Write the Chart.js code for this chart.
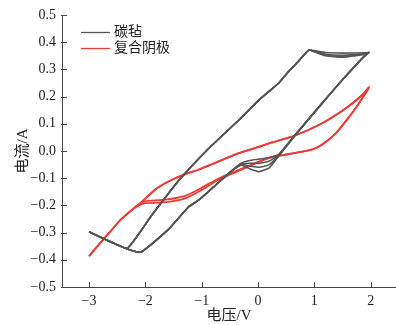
<!DOCTYPE html>
<html><head><meta charset="utf-8">
<script src="https://cdn.jsdelivr.net/npm/chart.js@4/dist/chart.umd.min.js"></script>
<style>html,body{margin:0;padding:0;background:#fff;overflow:hidden}#wrap{width:396px;height:325px;position:relative}</style>
</head><body><div id="wrap"><canvas id="c" width="396" height="325"></canvas></div>
<script>
const seriesNames = ['碳毡', '复合阴极'];
const xTicks = [-3, -2, -1, 0, 1, 2];
const yTicks = [-0.5, -0.4, -0.3, -0.2, -0.1, 0.0, 0.1, 0.2, 0.3, 0.4, 0.5];
const xTitle = '电压/V';
const yTitle = '电流/A';

// 碳毡 (carbon felt) – voltage path of one cycle
const grayV = [-3.0, -2.7, -2.32, -2.08, -1.6, -1.23, -1.05, -0.75, -0.52, -0.3, -0.15, 0.02, 0.2, 0.37, 0.67, 1.14, 1.5, 1.88, 1.97, 1.9, 1.5, 1.2, 1.0, 0.9, 0.7, 0.52, 0.37, 0.2, 0.02, -0.34, -0.87, -1.4, -1.9, -2.32, -2.7, -3.0];
const grayCycle1 = [-0.297, -0.326, -0.36, -0.372, -0.29, -0.205, -0.18, -0.125, -0.082, -0.045, -0.035, -0.03, -0.024, -0.012, 0.062, 0.176, 0.262, 0.347, 0.362, 0.361, 0.36, 0.362, 0.369, 0.371, 0.326, 0.287, 0.25, 0.22, 0.188, 0.114, 0.01, -0.107, -0.24, -0.357, -0.326, -0.297];
const grayCycle2 = [-0.297, -0.326, -0.36, -0.372, -0.29, -0.205, -0.18, -0.125, -0.082, -0.048, -0.045, -0.045, -0.037, -0.014, 0.062, 0.176, 0.262, 0.347, 0.362, 0.358, 0.352, 0.356, 0.367, 0.371, 0.326, 0.287, 0.25, 0.22, 0.188, 0.114, 0.01, -0.107, -0.24, -0.357, -0.326, -0.297];
const grayCycle3 = [-0.297, -0.326, -0.36, -0.372, -0.29, -0.205, -0.18, -0.125, -0.082, -0.05, -0.055, -0.06, -0.05, -0.016, 0.061, 0.176, 0.262, 0.347, 0.362, 0.357, 0.348, 0.352, 0.366, 0.371, 0.326, 0.287, 0.25, 0.22, 0.188, 0.114, 0.01, -0.107, -0.24, -0.357, -0.326, -0.297];
const grayCycle4 = [-0.297, -0.326, -0.36, -0.372, -0.29, -0.205, -0.18, -0.125, -0.082, -0.052, -0.065, -0.076, -0.062, -0.018, 0.06, 0.176, 0.262, 0.347, 0.362, 0.356, 0.345, 0.35, 0.365, 0.371, 0.326, 0.287, 0.25, 0.22, 0.188, 0.114, 0.01, -0.107, -0.24, -0.357, -0.326, -0.297];

// 复合阴极 (composite cathode)
const redV = [-3.0, -2.85, -2.65, -2.45, -2.23, -2.08, -1.8, -1.52, -1.3, -1.05, -0.8, -0.34, 0.0, 0.195, 0.67, 1.14, 1.56, 1.85, 1.97, 1.79, 1.62, 1.38, 1.14, 0.965, 0.55, 0.195, -0.1, -0.69, -1.0, -1.28, -1.64, -1.99, -2.08, -2.23, -2.45, -2.65, -2.85, -3.0];
const redCycle1 = [-0.387, -0.35, -0.303, -0.255, -0.215, -0.19, -0.138, -0.105, -0.086, -0.068, -0.047, -0.008, 0.014, 0.028, 0.058, 0.102, 0.157, 0.206, 0.234, 0.175, 0.126, 0.065, 0.024, 0.006, -0.011, -0.025, -0.049, -0.1, -0.135, -0.164, -0.179, -0.184, -0.19, -0.215, -0.255, -0.303, -0.35, -0.387];
const redCycle2 = [-0.387, -0.35, -0.303, -0.255, -0.215, -0.19, -0.138, -0.105, -0.086, -0.068, -0.047, -0.008, 0.014, 0.028, 0.058, 0.102, 0.157, 0.206, 0.234, 0.175, 0.126, 0.065, 0.024, 0.006, -0.011, -0.025, -0.051, -0.105, -0.143, -0.173, -0.188, -0.192, -0.196, -0.215, -0.255, -0.303, -0.35, -0.387];

const grayColor = '#555555';
const redColor = '#ef3b36';
const pts = (xs, ys) => xs.map((x, i) => ({x: x, y: ys[i]}));
const grayCycles = [grayCycle1, grayCycle2, grayCycle3, grayCycle4];
const redCycles = [redCycle1, redCycle2];

const datasets = [];
grayCycles.forEach(c => datasets.push({label: seriesNames[0], data: pts(grayV, c), borderColor: grayColor, borderWidth: 1.6, showLine: true, pointRadius: 0, tension: 0.15, fill: false}));
redCycles.forEach(c => datasets.push({label: seriesNames[1], data: pts(redV, c), borderColor: redColor, borderWidth: 1.8, showLine: true, pointRadius: 0, tension: 0.25, fill: false}));

const fontFam = '"Liberation Serif", "Times New Roman", "Noto Sans CJK SC", serif';
const fmtX = v => String(v).replace('-', '\u2212');
const fmtY = v => Number(v).toFixed(1).replace('-', '\u2212');

const extras = {
  id: 'extras',
  afterDraw(chart) {
    const ctx = chart.ctx, xs = chart.scales.x, ys = chart.scales.y, a = chart.chartArea;
    ctx.save();
    ctx.strokeStyle = '#444'; ctx.lineWidth = 1;
    ctx.beginPath();
    xTicks.forEach(v => { const p = Math.round(xs.getPixelForValue(v)) + 0.5; ctx.moveTo(p, a.bottom); ctx.lineTo(p, a.bottom - 5); });
    yTicks.forEach(v => { const p = Math.round(ys.getPixelForValue(v)) + 0.5; ctx.moveTo(a.left - 1, p); ctx.lineTo(a.left + 5, p); });
    ctx.stroke();
    // legend
    const items = [[seriesNames[0], grayColor], [seriesNames[1], redColor]];
    ctx.font = '14px ' + fontFam; ctx.textBaseline = 'middle'; ctx.fillStyle = '#222';
    items.forEach((it, i) => {
      const y = 32.5 + i * 16;
      ctx.strokeStyle = it[1]; ctx.lineWidth = 1.3;
      ctx.beginPath(); ctx.moveTo(81, y); ctx.lineTo(110, y); ctx.stroke();
      ctx.fillText(it[0], 114, y);
    });
    ctx.restore();
  }
};

new Chart(document.getElementById('c'), {
  type: 'scatter',
  data: {datasets},
  options: {
    responsive: false, animation: false, devicePixelRatio: 1,
    layout: {padding: {top: 15, right: 0, left: 0, bottom: 0}},
    plugins: {legend: {display: false}, tooltip: {enabled: false}},
    scales: {
      x: {
        type: 'linear', min: -3.48, max: 2.45,
        afterBuildTicks: ax => { ax.ticks = xTicks.map(v => ({value: v})); },
        afterFit: ax => { ax.height = 38; },
        grid: {display: false, drawTicks: false},
        border: {display: true, color: '#444', width: 1},
        ticks: {font: {family: fontFam, size: 14}, color: '#222', padding: 6, callback: v => fmtX(v), maxRotation: 0},
        title: {display: true, text: xTitle, font: {family: fontFam, size: 15}, color: '#222', padding: {top: 3, bottom: 0}}
      },
      y: {
        type: 'linear', min: -0.5, max: 0.5,
        afterBuildTicks: ax => { ax.ticks = yTicks.map(v => ({value: v})); },
        afterFit: ax => { ax.width = 62; },
        grid: {display: false, drawTicks: false},
        border: {display: true, color: '#444', width: 1},
        ticks: {font: {family: fontFam, size: 14}, color: '#222', padding: 6, callback: v => fmtY(v)},
        title: {display: true, text: yTitle, font: {family: fontFam, size: 15}, color: '#222', padding: {top: 14, bottom: 4}}
      }
    }
  },
  plugins: [extras]
});
</script></body></html>
